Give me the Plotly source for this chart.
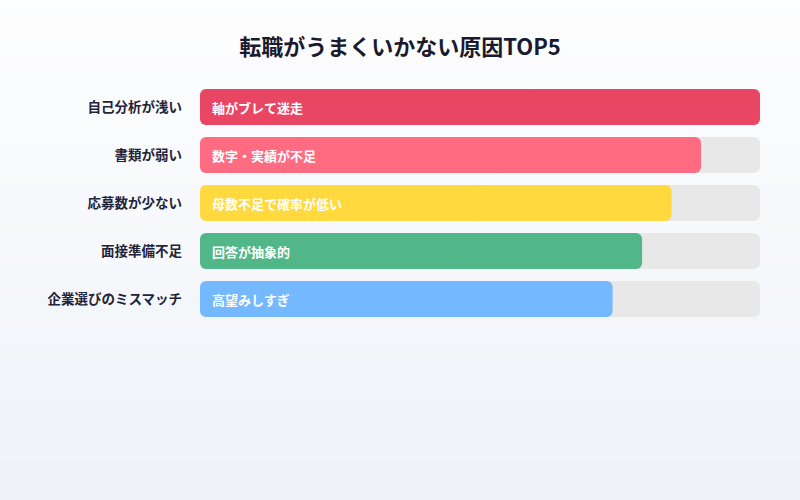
import plotly.graph_objects as go

categories = ["自己分析が浅い", "書類が弱い", "応募数が少ない", "面接準備不足", "企業選びのミスマッチ"]
values = [95, 85, 80, 75, 70]
bar_texts = ["軸がブレて迷走", "数字・実績が不足", "母数不足で確率が低い", "回答が抽象的", "高望みしすぎ"]
colors = ["#e94663", "#ff6b81", "#ffd93d", "#52b788", "#74b9ff"]
max_value = 95

FONT = "Noto Sans CJK JP"


def add_rounded(fig, vals, color, hover=True):
    # right part: rounded at right end
    fig.add_trace(go.Bar(
        y=categories, x=[v * 0.6 for v in vals], base=[v * 0.4 for v in vals], orientation="h",
        marker=dict(color=color, line=dict(width=0)), showlegend=False,
        hoverinfo="skip" if not hover else None,
    ))
    # left part: drawn backwards from the middle, rounded at left end
    fig.add_trace(go.Bar(
        y=categories, x=[-v * 0.6 for v in vals], base=[v * 0.6 for v in vals], orientation="h",
        marker=dict(color=color, line=dict(width=0)), showlegend=False, hoverinfo="skip",
    ))


fig = go.Figure()
add_rounded(fig, [max_value] * len(categories), "#e8e8e8", hover=False)
add_rounded(fig, values, colors)

for cat, txt in zip(categories, bar_texts):
    fig.add_annotation(
        x=0, y=cat, xref="x", yref="y", text=f"<b>{txt}</b>", showarrow=False,
        xanchor="left", xshift=10, font=dict(family=FONT, size=13, color="white"),
    )

# background gradient strips
shapes = []
n = 80
top = (254, 254, 255)
bot = (238, 242, 247)
y_top, y_bot = 1.4, -0.8
for i in range(n):
    t = i / (n - 1)
    c = tuple(round(top[k] + (bot[k] - top[k]) * t) for k in range(3))
    shapes.append(dict(
        type="rect", xref="paper", yref="paper",
        x0=-1, x1=2,
        y0=y_top - (i + 1) * (y_top - y_bot) / n - 0.002,
        y1=y_top - i * (y_top - y_bot) / n,
        fillcolor=f"rgb{c}", line=dict(width=0), layer="below",
    ))

fig.update_layout(
    width=800, height=500,
    margin=dict(l=200, r=40, t=83, b=177),
    barmode="overlay", bargap=0.25, barcornerradius=6,
    paper_bgcolor="#eef2f7", plot_bgcolor="rgba(0,0,0,0)",
    shapes=shapes,
    title=dict(
        text="<b>転職がうまくいかない原因TOP5</b>", x=0.5, xanchor="center",
        y=1 - 47 / 500, yref="container", yanchor="middle",
        font=dict(family=FONT, size=22, color="#1a1a2e"),
    ),
    xaxis=dict(range=[0, max_value], visible=False, fixedrange=True),
    yaxis=dict(
        autorange="reversed", showgrid=False, zeroline=False, showline=False, ticks="",
        ticklabelstandoff=17, tickfont=dict(family=FONT, size=13.5, color="#23233a", weight="bold"),
        fixedrange=True,
    ),
    font=dict(family=FONT),
)

fig.write_html("out.html")
